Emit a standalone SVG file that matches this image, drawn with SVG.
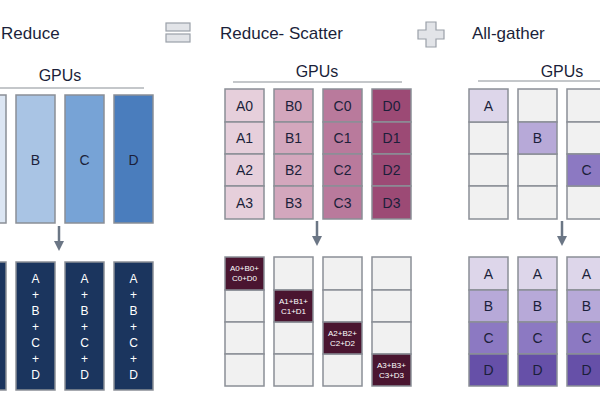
<svg xmlns="http://www.w3.org/2000/svg" width="600" height="400" viewBox="0 0 600 400">
<style>
text{font-family:"Liberation Sans",Arial,sans-serif;text-anchor:middle;dominant-baseline:central;fill:#1b1f3a}
.t{font-size:17px;text-anchor:start}
.g{font-size:16px}
.c{font-size:14px}
.s{font-size:8px;fill:#fff}
.w{fill:#fff;font-size:12px}
rect{stroke:#8a8f96;stroke-width:1.5}
.e{fill:#f1f1f1}
.ln{stroke:#8a8f96;stroke-width:1.2;fill:none}
.ar{stroke:#6b7685;stroke-width:2.5;fill:none}
.ic{fill:#e2e4e8;stroke:#9aa0a8;stroke-width:1.2}
</style>
<defs>
<marker id="ah" markerWidth="4" markerHeight="4" refX="2" refY="2" orient="auto" markerUnits="strokeWidth"><path d="M0,0L4,2L0,4Z" fill="#6b7685"/></marker>
</defs>
<g id="titles">
<text class="t" x="1" y="33">Reduce</text>
<text class="t" x="220" y="33">Reduce- Scatter</text>
<text class="t" x="472" y="33">All-gather</text>
<rect class="ic" x="166" y="23" width="24" height="8"/>
<rect class="ic" x="166" y="34" width="24" height="8"/>
<path class="ic" d="M426,22h10v8h8v9h-8v8h-10v-8h-8v-9h8z"/>
</g>
<g id="connectors">
<line class="ln" x1="0" y1="88" x2="144" y2="88"/>
<line class="ln" x1="233" y1="82" x2="402" y2="82"/>
<line class="ln" x1="478" y1="81" x2="600" y2="81"/>
<line class="ar" x1="59" y1="226" x2="59" y2="246" marker-end="url(#ah)"/>
<line class="ar" x1="317" y1="221" x2="317" y2="241" marker-end="url(#ah)"/>
<line class="ar" x1="562" y1="221" x2="562" y2="241" marker-end="url(#ah)"/>
</g>
<g id="allreduce">
<text class="g" x="60" y="75">GPUs</text>
<rect x="-33" y="95" width="39" height="128" fill="#dce6f3"/>
<rect x="16" y="95" width="39" height="128" fill="#a9c4e4"/><text class="c" x="35.5" y="160">B</text>
<rect x="65" y="95" width="39" height="128" fill="#77a3d6"/><text class="c" x="84.5" y="160">C</text>
<rect x="114" y="95" width="39" height="128" fill="#4a7dbd"/><text class="c" x="133.5" y="160">D</text>
<rect x="-33" y="262" width="39" height="128" fill="#1b355e"/>
<rect x="16" y="262" width="39" height="128" fill="#1b355e"/>
<rect x="65" y="262" width="39" height="128" fill="#1b355e"/>
<rect x="114" y="262" width="39" height="128" fill="#1b355e"/>
<g>
<text class="w" x="35.5" y="279">A</text><text class="w" x="35.5" y="295">+</text><text class="w" x="35.5" y="311">B</text><text class="w" x="35.5" y="327">+</text><text class="w" x="35.5" y="343">C</text><text class="w" x="35.5" y="359">+</text><text class="w" x="35.5" y="375">D</text>
<text class="w" x="84.5" y="279">A</text><text class="w" x="84.5" y="295">+</text><text class="w" x="84.5" y="311">B</text><text class="w" x="84.5" y="327">+</text><text class="w" x="84.5" y="343">C</text><text class="w" x="84.5" y="359">+</text><text class="w" x="84.5" y="375">D</text>
<text class="w" x="133.5" y="279">A</text><text class="w" x="133.5" y="295">+</text><text class="w" x="133.5" y="311">B</text><text class="w" x="133.5" y="327">+</text><text class="w" x="133.5" y="343">C</text><text class="w" x="133.5" y="359">+</text><text class="w" x="133.5" y="375">D</text>
</g>
</g>
<g id="reducescatter">
<text class="g" x="317" y="71">GPUs</text>
<g fill="#e6cfdb"><rect x="225" y="89" width="39" height="33"/><rect x="225" y="122" width="39" height="32"/><rect x="225" y="154" width="39" height="32"/><rect x="225" y="186" width="39" height="33"/></g>
<g fill="#d3a7bd"><rect x="274" y="89" width="39" height="33"/><rect x="274" y="122" width="39" height="32"/><rect x="274" y="154" width="39" height="32"/><rect x="274" y="186" width="39" height="33"/></g>
<g fill="#b97a9c"><rect x="323" y="89" width="39" height="33"/><rect x="323" y="122" width="39" height="32"/><rect x="323" y="154" width="39" height="32"/><rect x="323" y="186" width="39" height="33"/></g>
<g fill="#9c4a75"><rect x="372" y="89" width="39" height="33"/><rect x="372" y="122" width="39" height="32"/><rect x="372" y="154" width="39" height="32"/><rect x="372" y="186" width="39" height="33"/></g>
<text class="c" x="244.5" y="106">A0</text><text class="c" x="244.5" y="138">A1</text><text class="c" x="244.5" y="170">A2</text><text class="c" x="244.5" y="203">A3</text>
<text class="c" x="293.5" y="106">B0</text><text class="c" x="293.5" y="138">B1</text><text class="c" x="293.5" y="170">B2</text><text class="c" x="293.5" y="203">B3</text>
<text class="c" x="342.5" y="106">C0</text><text class="c" x="342.5" y="138">C1</text><text class="c" x="342.5" y="170">C2</text><text class="c" x="342.5" y="203">C3</text>
<text class="c" x="391.5" y="106">D0</text><text class="c" x="391.5" y="138">D1</text><text class="c" x="391.5" y="170">D2</text><text class="c" x="391.5" y="203">D3</text>
<g class="e">
<rect x="225" y="290" width="39" height="32"/><rect x="225" y="322" width="39" height="32"/><rect x="225" y="354" width="39" height="32"/>
<rect x="274" y="257" width="39" height="33"/><rect x="274" y="322" width="39" height="32"/><rect x="274" y="354" width="39" height="32"/>
<rect x="323" y="257" width="39" height="33"/><rect x="323" y="290" width="39" height="32"/><rect x="323" y="354" width="39" height="32"/>
<rect x="372" y="257" width="39" height="33"/><rect x="372" y="290" width="39" height="32"/><rect x="372" y="322" width="39" height="32"/>
</g>
<g fill="#4a1530">
<rect x="225" y="257" width="39" height="33"/><rect x="274" y="290" width="39" height="32"/><rect x="323" y="322" width="39" height="32"/><rect x="372" y="354" width="39" height="32"/>
</g>
<text class="s" x="244.5" y="268">A0+B0+</text><text class="s" x="244.5" y="278">C0+D0</text>
<text class="s" x="293.5" y="301">A1+B1+</text><text class="s" x="293.5" y="311">C1+D1</text>
<text class="s" x="342.5" y="333">A2+B2+</text><text class="s" x="342.5" y="343">C2+D2</text>
<text class="s" x="391.5" y="365">A3+B3+</text><text class="s" x="391.5" y="375">C3+D3</text>
</g>
<g id="allgather">
<text class="g" x="562" y="71">GPUs</text>
<g class="e">
<rect x="469" y="122" width="39" height="32"/><rect x="469" y="154" width="39" height="32"/><rect x="469" y="186" width="39" height="33"/>
<rect x="518" y="89" width="39" height="33"/><rect x="518" y="154" width="39" height="32"/><rect x="518" y="186" width="39" height="33"/>
<rect x="567" y="89" width="39" height="33"/><rect x="567" y="122" width="39" height="32"/><rect x="567" y="186" width="39" height="33"/>
</g>
<rect x="469" y="89" width="39" height="33" fill="#ddd6ea"/><text class="c" x="488.5" y="106">A</text>
<rect x="518" y="122" width="39" height="32" fill="#b7a9d8"/><text class="c" x="537.5" y="138">B</text>
<rect x="567" y="154" width="39" height="32" fill="#8c79c2"/><text class="c" x="586.5" y="170">C</text>
<g>
<rect x="469" y="257" width="39" height="33" fill="#ddd6ea"/><rect x="469" y="290" width="39" height="32" fill="#b7a9d8"/><rect x="469" y="322" width="39" height="32" fill="#8c79c2"/><rect x="469" y="354" width="39" height="32" fill="#6650a8"/>
<rect x="518" y="257" width="39" height="33" fill="#ddd6ea"/><rect x="518" y="290" width="39" height="32" fill="#b7a9d8"/><rect x="518" y="322" width="39" height="32" fill="#8c79c2"/><rect x="518" y="354" width="39" height="32" fill="#6650a8"/>
<rect x="567" y="257" width="39" height="33" fill="#ddd6ea"/><rect x="567" y="290" width="39" height="32" fill="#b7a9d8"/><rect x="567" y="322" width="39" height="32" fill="#8c79c2"/><rect x="567" y="354" width="39" height="32" fill="#6650a8"/>
</g>
<text class="c" x="488.5" y="274">A</text><text class="c" x="488.5" y="306">B</text><text class="c" x="488.5" y="338">C</text><text class="c" x="488.5" y="370">D</text>
<text class="c" x="537.5" y="274">A</text><text class="c" x="537.5" y="306">B</text><text class="c" x="537.5" y="338">C</text><text class="c" x="537.5" y="370">D</text>
<text class="c" x="586.5" y="274">A</text><text class="c" x="586.5" y="306">B</text><text class="c" x="586.5" y="338">C</text><text class="c" x="586.5" y="370">D</text>
</g>
</svg>
